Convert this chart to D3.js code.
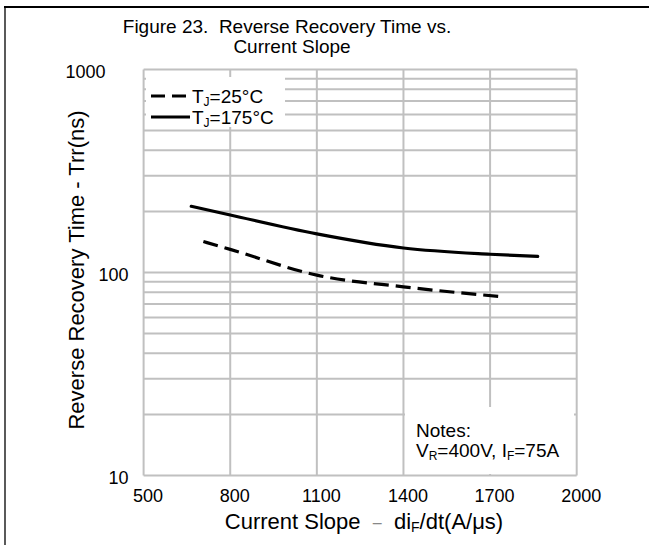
<!DOCTYPE html>
<html><head><meta charset="utf-8">
<script src="https://cdn.jsdelivr.net/npm/d3@7/dist/d3.min.js"></script>
<style>
body{margin:0;background:#fff}
svg{display:block;font-family:"Liberation Sans",Arial,sans-serif}
text{white-space:pre}
</style>
</head><body>
<svg id="c" width="649" height="545"></svg>
<script>
// ---- data ----
const slope175 = [665, 800, 1100, 1400, 1700, 1865];
const trr175   = [212, 192, 155, 132, 123, 120];
const slope25  = [707, 800, 1100, 1400, 1740];
const trr25    = [142, 130, 97, 85, 76];
const xTicks   = [500, 800, 1100, 1400, 1700, 2000];
const yTicks   = [10, 100, 1000];
const legendLabels = [["T","J","=25°C"], ["T","J","=175°C"]];
const titleLines = ["Figure 23.  Reverse Recovery Time vs.", "Current Slope"];

const svg = d3.select("#c");
const x = d3.scaleLinear().domain([500, 2000]).range([143.6, 576.7]);
const y = d3.scaleLog().domain([10, 1000]).range([475.5, 69.5]);
const grid = "#c0c0c0";
const FF = "Liberation Sans, Arial, sans-serif";

// frame
svg.append("line").attr("x1",4).attr("x2",649).attr("y1",7).attr("y2",7).attr("stroke","#000").attr("stroke-width",2);
svg.append("line").attr("x1",5).attr("x2",5).attr("y1",7).attr("y2",545).attr("stroke","#000").attr("stroke-width",1.3);

// grid
const minor = [];
[10,100].forEach(d => { for (let k=2;k<=9;k++) minor.push(d*k); });
const hVals = yTicks.concat(minor);
svg.append("g").selectAll("line").data(hVals).join("line")
  .attr("x1", x(500)).attr("x2", x(2000))
  .attr("y1", d=>y(d)).attr("y2", d=>y(d))
  .attr("stroke", grid).attr("stroke-width", 2);
svg.append("g").selectAll("line").data(xTicks).join("line")
  .attr("x1", d=>x(d)).attr("x2", d=>x(d))
  .attr("y1", y(10)).attr("y2", y(1000))
  .attr("stroke", grid).attr("stroke-width", 2);

// axes labels via d3 axes
const xa = svg.append("g").attr("transform", `translate(4,${y(10)})`)
  .call(d3.axisBottom(x).tickValues(xTicks).tickSize(0).tickPadding(14).tickFormat(d3.format("d")));
xa.select(".domain").remove();
xa.selectAll("text").attr("font-size",18).attr("font-family",FF).attr("fill","#000");

const ya = svg.append("g").attr("transform", `translate(${x(500)},2.5)`)
  .call(d3.axisLeft(y).tickValues(yTicks).tickSize(0).tickPadding(15).tickFormat(d3.format("d")));
ya.select(".domain").remove();
ya.selectAll("text").attr("font-size",18).attr("font-family",FF).attr("fill","#000")
  .attr("dx", d => d === 1000 ? -23 : 0);

// legend box
svg.append("rect").attr("x",146).attr("y",77).attr("width",139).attr("height",50).attr("fill","#fff");
// notes box
svg.append("rect").attr("x",405).attr("y",407).attr("width",169).attr("height",67).attr("fill","#fff");

// curves
const line = d3.line().x(d=>x(d[0])).y(d=>y(d[1])).curve(d3.curveMonotoneX);
const d175 = slope175.map((s,i)=>[s,trr175[i]]);
const d25 = slope25.map((s,i)=>[s,trr25[i]]);
svg.append("path").datum(d175).attr("d",line).attr("fill","none").attr("stroke","#000").attr("stroke-width",3.2).attr("stroke-linecap","round");
svg.append("path").datum(d25).attr("d",line).attr("fill","none").attr("stroke","#000").attr("stroke-width",3.2).attr("stroke-dasharray","15,7");

// legend
const legY = [96, 117];
legendLabels.forEach((lab,i)=>{
  svg.append("line").attr("x1",151).attr("x2",190).attr("y1",legY[i]).attr("y2",legY[i])
    .attr("stroke","#000").attr("stroke-width",3.2).attr("stroke-dasharray", i===0 ? "14,7" : null);
  const t = svg.append("text").attr("x",192).attr("y",legY[i]+6.5).attr("font-size",19);
  t.append("tspan").text(lab[0]);
  t.append("tspan").text(lab[1]).attr("font-size",12).attr("dy",3);
  t.append("tspan").text(lab[2]).attr("dy",-3);
});

// notes
svg.append("text").attr("x",416).attr("y",437).attr("font-size",19).text("Notes:");
const n = svg.append("text").attr("x",416).attr("y",457).attr("font-size",19);
n.append("tspan").text("V");
n.append("tspan").text("R").attr("font-size",12).attr("dy",3);
n.append("tspan").text("=400V, I").attr("dy",-3);
n.append("tspan").text("F").attr("font-size",12).attr("dy",3);
n.append("tspan").text("=75A").attr("dy",-3);

// title
svg.selectAll(".title").data(titleLines).join("text").attr("class","title")
  .attr("x",(d,i)=> i===0 ? 287 : 292).attr("y",(d,i)=>33+i*20).attr("text-anchor","middle").attr("font-size",19).text(d=>d);

// x title
const xt = svg.append("text").attr("x",364).attr("y",529).attr("text-anchor","middle").attr("font-size",22);
xt.append("tspan").text("Current Slope  ");
xt.append("tspan").text("–").attr("fill","#888").attr("font-size",16).attr("dy",-1);
xt.append("tspan").text("  di").attr("dy",1);
xt.append("tspan").text("F").attr("font-size",14).attr("dy",3);
xt.append("tspan").text("/dt(A/μs)").attr("dy",-3);

// y title
svg.append("text").attr("transform","translate(84,270) rotate(-90)").attr("text-anchor","middle")
  .attr("font-size",22).text("Reverse Recovery Time - Trr(ns)");
</script>
</body></html>
